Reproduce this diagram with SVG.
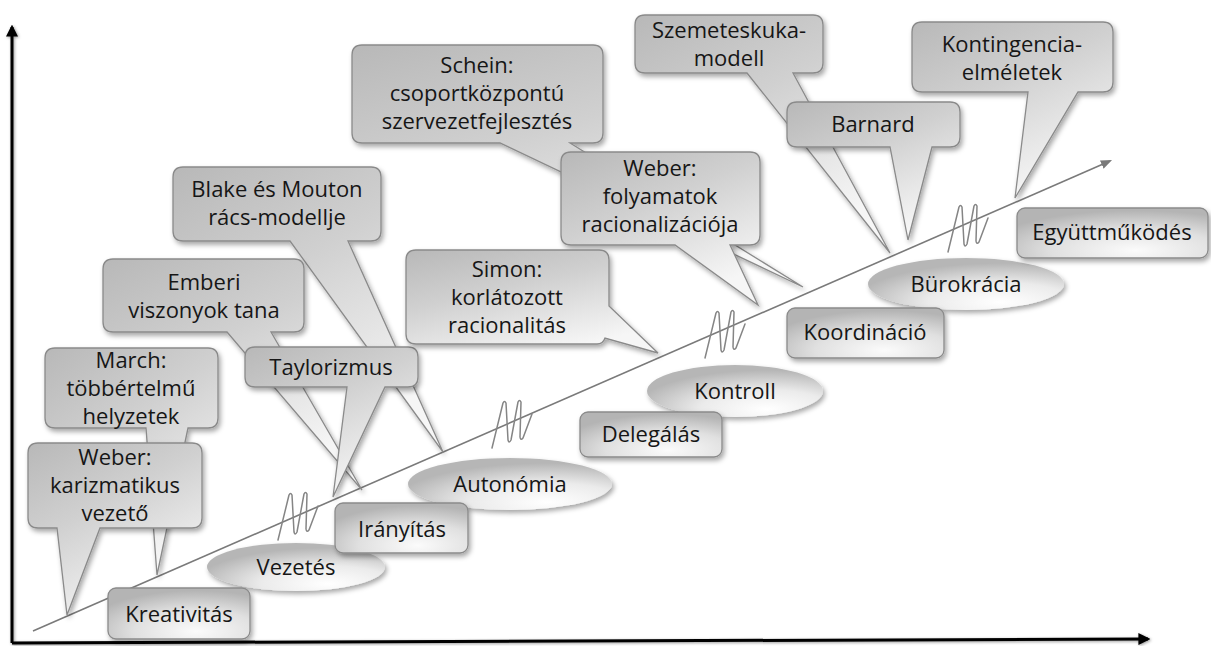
<svg xmlns="http://www.w3.org/2000/svg" width="1211" height="646" viewBox="0 0 1211 646">
  <defs>
    <style>
      .t { font-family: "Open Sans", "Noto Sans", "Liberation Sans", sans-serif; font-size: 22px; fill: #161616; text-anchor: middle; }
      .call { fill: url(#gCall); stroke: #8a8a8a; stroke-width: 1.3; filter: url(#shadow); }
      .box { fill: url(#gBox); stroke: #8a8a8a; stroke-width: 1.3; filter: url(#shadow); }
      .ell { fill: url(#gEll); stroke: none; filter: url(#shadow); }
      .axis { stroke: #000; stroke-width: 3; fill: none; filter: url(#axisShadow); }
      .trend { stroke: #7a7a7a; stroke-width: 1.6; fill: none; }
      .coil { stroke: #858585; stroke-width: 1.5; fill: none; stroke-linejoin: round; stroke-linecap: round; }
    </style>
    <linearGradient id="gCall" x1="0" y1="0" x2="0.55" y2="1">
      <stop offset="0" stop-color="#b8b8b8"/>
      <stop offset="0.45" stop-color="#d0d0d0"/>
      <stop offset="1" stop-color="#f6f6f6"/>
    </linearGradient>
    <radialGradient id="gBox" cx="0.62" cy="0.85" r="0.8">
      <stop offset="0" stop-color="#fbfbfb"/>
      <stop offset="0.55" stop-color="#e0e0e0"/>
      <stop offset="1" stop-color="#b4b4b4"/>
    </radialGradient>
    <radialGradient id="gEll" cx="0.68" cy="0.85" r="0.75">
      <stop offset="0" stop-color="#ffffff"/>
      <stop offset="0.5" stop-color="#ebebeb"/>
      <stop offset="1" stop-color="#b6b6b6"/>
    </radialGradient>
    <filter id="shadow" x="-10%" y="-10%" width="125%" height="130%">
      <feDropShadow dx="2" dy="3" stdDeviation="2.5" flood-color="#000" flood-opacity="0.35"/>
    </filter>
    <!-- user-space region so the zero-width vertical axis still renders -->
    <filter id="axisShadow" filterUnits="userSpaceOnUse" x="0" y="0" width="1211" height="646">
      <feDropShadow dx="1" dy="1" stdDeviation="1.5" flood-color="#000" flood-opacity="0.4"/>
    </filter>
    <marker id="axHead" viewBox="0 0 10 10" refX="8" refY="5" markerWidth="4" markerHeight="4" orient="auto" markerUnits="strokeWidth">
      <path d="M0,0 L10,5 L0,10 Z" fill="#000"/>
    </marker>
    <marker id="trHead" viewBox="0 0 10 10" refX="8" refY="5" markerWidth="7" markerHeight="7" orient="auto" markerUnits="strokeWidth">
      <path d="M0,1 L10,5 L0,9 Z" fill="#7a7a7a"/>
    </marker>
    <!-- break mark drawn across the trend line -->
    <path id="coil" d="M0,48 L11,3 Q12.5,0 14,3 L16,40 Q17,44 19,40 L26,2 Q27.5,-1 29,2 L28,37 Q28.5,41 31,38 L40,14"/>
  </defs>

  <!-- axes, trend line and break marks -->
  <g id="connectors">
    <path class="axis" d="M12,643 L12,27" marker-end="url(#axHead)"/>
    <path class="axis" d="M12,643 L1148,639" marker-end="url(#axHead)"/>
    <path class="trend" d="M33,631 L1110,161" marker-end="url(#trHead)"/>
    <use href="#coil" class="coil" x="278" y="492"/>
    <use href="#coil" class="coil" x="492" y="400"/>
    <use href="#coil" class="coil" x="705" y="310"/>
    <use href="#coil" class="coil" x="948" y="204"/>
  </g>

  <!-- theory callouts -->
  <g id="schein">
    <path class="call" d="M362,45 H593 Q603,45 603,55 V133 Q603,143 593,143 H570 L803,287 L500,143 H362 Q352,143 352,133 V55 Q352,45 362,45 Z"/>
    <text class="t" x="477" y="73">Schein:</text>
    <text class="t" x="477" y="101">csoportközpontú</text>
    <text class="t" x="477" y="129">szervezetfejlesztés</text>
  </g>
  <g id="weber-folyamatok">
    <path class="call" d="M571,152 H750 Q760,152 760,162 V235 Q760,245 750,245 H730 L758,305 L675,245 H571 Q561,245 561,235 V162 Q561,152 571,152 Z"/>
    <text class="t" x="660" y="176">Weber:</text>
    <text class="t" x="660" y="204">folyamatok</text>
    <text class="t" x="660" y="232">racionalizációja</text>
  </g>
  <g id="szemeteskuka">
    <path class="call" d="M645,15 H813 Q823,15 823,25 V63 Q823,73 813,73 H793 L890,253 L747,73 H645 Q635,73 635,63 V25 Q635,15 645,15 Z"/>
    <text class="t" x="729" y="38">Szemeteskuka-</text>
    <text class="t" x="729" y="66">modell</text>
  </g>
  <g id="barnard">
    <path class="call" d="M797,102 H950 Q960,102 960,112 V137 Q960,147 950,147 H932 L908,240 L890,147 H797 Q787,147 787,137 V112 Q787,102 797,102 Z"/>
    <text class="t" x="873" y="132">Barnard</text>
  </g>
  <g id="kontingencia">
    <path class="call" d="M922,22 H1103 Q1113,22 1113,32 V82 Q1113,92 1103,92 H1078 L1015,198 L1028,92 H922 Q912,92 912,82 V32 Q912,22 922,22 Z"/>
    <text class="t" x="1012" y="52">Kontingencia-</text>
    <text class="t" x="1012" y="80">elméletek</text>
  </g>
  <g id="blake-mouton">
    <path class="call" d="M183,167 H371 Q381,167 381,177 V231 Q381,241 371,241 H348 L443,452 L290,241 H183 Q173,241 173,231 V177 Q173,167 183,167 Z"/>
    <text class="t" x="277" y="197">Blake és Mouton</text>
    <text class="t" x="277" y="225">rács-modellje</text>
  </g>
  <g id="emberi-viszonyok">
    <path class="call" d="M113,259 H294 Q304,259 304,269 V322 Q304,332 294,332 H271 L362,490 L227,332 H113 Q103,332 103,322 V269 Q103,259 113,259 Z"/>
    <text class="t" x="204" y="290">Emberi</text>
    <text class="t" x="204" y="318">viszonyok tana</text>
  </g>
  <g id="taylorizmus">
    <path class="call" d="M255,347 H408 Q418,347 418,357 V377 Q418,387 408,387 H385 L333,497 L347,387 H255 Q245,387 245,377 V357 Q245,347 255,347 Z"/>
    <text class="t" x="331" y="375">Taylorizmus</text>
  </g>
  <g id="march">
    <path class="call" d="M55,348 H208 Q218,348 218,358 V418 Q218,428 208,428 H188 L157,575 L146,428 H55 Q45,428 45,418 V358 Q45,348 55,348 Z"/>
    <text class="t" x="131" y="368">March:</text>
    <text class="t" x="131" y="396">többértelmű</text>
    <text class="t" x="131" y="424">helyzetek</text>
  </g>
  <g id="weber-karizmatikus">
    <path class="call" d="M38,443 H192 Q202,443 202,453 V518 Q202,528 192,528 H100 L67,615 L57,528 H38 Q28,528 28,518 V453 Q28,443 38,443 Z"/>
    <text class="t" x="115" y="465">Weber:</text>
    <text class="t" x="115" y="493">karizmatikus</text>
    <text class="t" x="115" y="521">vezető</text>
  </g>
  <g id="simon">
    <path class="call" d="M416,250 H599 Q609,250 609,260 V306 L658,353 L605,338 Q603,344 597,344 H416 Q406,344 406,334 V260 Q406,250 416,250 Z"/>
    <text class="t" x="507" y="277">Simon:</text>
    <text class="t" x="507" y="305">korlátozott</text>
    <text class="t" x="507" y="333">racionalitás</text>
  </g>

  <!-- stages along the trend line -->
  <g id="vezetes">
    <ellipse class="ell" cx="296" cy="567" rx="89" ry="24"/>
    <text class="t" x="296" y="575">Vezetés</text>
  </g>
  <g id="autonomia">
    <ellipse class="ell" cx="510" cy="484" rx="102" ry="26"/>
    <text class="t" x="510" y="492">Autonómia</text>
  </g>
  <g id="kontroll">
    <ellipse class="ell" cx="735" cy="391" rx="88" ry="26"/>
    <text class="t" x="735" y="399">Kontroll</text>
  </g>
  <g id="burokracia">
    <ellipse class="ell" cx="966" cy="284" rx="98" ry="26"/>
    <text class="t" x="966" y="292">Bürokrácia</text>
  </g>

  <!-- skills below the trend line -->
  <g id="kreativitas">
    <rect class="box" x="108" y="588" width="142" height="51" rx="8"/>
    <text class="t" x="179" y="622">Kreativitás</text>
  </g>
  <g id="iranyitas">
    <rect class="box" x="335" y="503" width="133" height="50" rx="8"/>
    <text class="t" x="402" y="537">Irányítás</text>
  </g>
  <g id="delegalas">
    <rect class="box" x="580" y="412" width="142" height="45" rx="8"/>
    <text class="t" x="651" y="442">Delegálás</text>
  </g>
  <g id="koordinacio">
    <rect class="box" x="787" y="308" width="157" height="50" rx="8"/>
    <text class="t" x="865" y="340">Koordináció</text>
  </g>
  <g id="egyuttmukodes">
    <rect class="box" x="1017" y="208" width="191" height="50" rx="8"/>
    <text class="t" x="1112" y="240">Együttműködés</text>
  </g>
</svg>
